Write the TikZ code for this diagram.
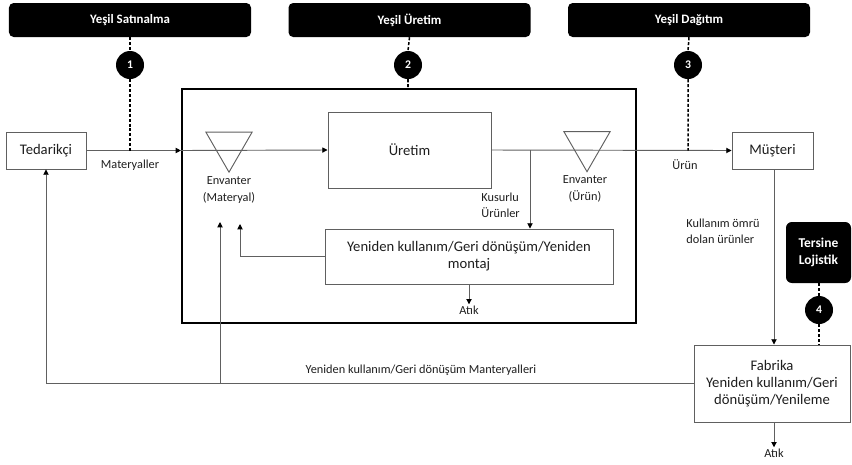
\documentclass[tikz,border=0pt]{standalone}
\usepackage{fontspec}
\setmainfont{Carlito}
\usetikzlibrary{arrows.meta,shapes.geometric}
\definecolor{lingray}{HTML}{606060}
\definecolor{txtdark}{HTML}{1E1E1E}
\tikzset{
  arr/.style={draw=lingray,line width=0.8pt,-{Triangle[width=4.5pt,length=4.5pt,color=black]}},
  plainline/.style={draw=lingray,line width=0.8pt},
  dashline/.style={draw=black,line width=1.3pt,dash pattern=on 2.6pt off 1.6pt},
  stagebox/.style={draw=lingray,line width=0.8pt,fill=white,text=txtdark,align=center,
    font=\fontsize{12.5}{14.5}\selectfont,inner sep=2pt},
  header/.style={fill=black,rounded corners=4pt,text=white,minimum width=7.26cm,
    minimum height=1.02cm,font=\bfseries\fontsize{11}{13}\selectfont},
  stepnum/.style={circle,fill=black,text=white,minimum size=0.84cm,inner sep=0pt,
    font=\bfseries\fontsize{10}{12}\selectfont},
  invtri/.style={regular polygon,regular polygon sides=3,shape border rotate=180,
    draw=lingray,line width=0.8pt,minimum size=1.6cm,inner sep=0pt},
  lbl/.style={text=txtdark,font=\fontsize{10.5}{14}\selectfont,inner sep=1pt}
}
\begin{document}
\begin{tikzpicture}[x=0.03cm,y=-0.03cm]
 \useasboundingbox (0,0) rectangle (852,464);
 % headers and numbered steps
 \node[header] (h1) at (130,20) {Yeşil Satınalma};
 \node[header] (h2) at (409.5,20) {Yeşil Üretim};
 \node[header] (h3) at (689,20) {Yeşil Dağıtım};
 \node[stepnum] (c1) at (130,65) {1};
 \node[stepnum] (c2) at (408,65) {2};
 \node[stepnum] (c3) at (688,65) {3};
 % plant frame
 \node[draw=black,line width=1.8pt,minimum width=13.62cm,minimum height=7.02cm] (plant) at (409,206) {};
 % boxes
 \node[stagebox,minimum width=2.4cm,minimum height=1.11cm] (tedarik) at (46,150.5) {Tedarikçi};
 \node[stagebox,minimum width=4.89cm,minimum height=2.28cm] (uretim) at (409.5,150) {Üretim};
 \node[stagebox,minimum width=2.43cm,minimum height=1.11cm] (musteri) at (772.5,150.5) {Müşteri};
 \node[stagebox,minimum width=8.64cm,minimum height=1.65cm] (reuse) at (469,256.5)
   {Yeniden kullanım/Geri dönüşüm/Yeniden\\montaj};
 \node[stagebox,minimum width=4.68cm,minimum height=2.31cm] (fabrika) at (772,383.5)
   {Fabrika\\Yeniden kullanım/Geri\\dönüşüm/Yenileme};
 \node[fill=black,rounded corners=5pt,text=white,align=center,minimum width=1.95cm,
   minimum height=1.83cm,font=\bfseries\fontsize{11.5}{15}\selectfont] (tersine) at (818.5,252.5) {Tersine\\Lojistik};
 \node[stepnum] (c4) at (819,310) {4};
 % labels
 \node[lbl] (matlbl) at (130,165) {Materyaller};
 \node[lbl,align=center] (envmlbl) at (229,190) {Envanter\\(Materyal)};
 \node[lbl,align=center] (envulbl) at (585,189) {Envanter\\(Ürün)};
 \node[lbl] (urunlbl) at (685,165) {Ürün};
 \node[lbl,align=left,anchor=west] (kuslbl) at (480,205) {Kusurlu\\Ürünler};
 \node[lbl,align=left,anchor=west] (omurlbl) at (685,231) {Kullanım ömrü\\dolan ürünler};
 \node[lbl] (atik1) at (469,310) {Atık};
 \node[lbl] (atik2) at (774,453) {Atık};
 \node[lbl] (geriLbl) at (421,370) {Yeniden kullanım/Geri dönüşüm Manteryalleri};
 \coordinate (kusurlu) at (530,150);
 \coordinate (envmin) at (240,224);
 \coordinate (envmret) at (220,222);
 % main flow
 \draw[arr] (tedarik.east) -- (tedarik.east -| plant.west);
 \draw[arr] (tedarik.east -| plant.west) -- (uretim.west);
 \draw[arr] (uretim.east) -- (musteri.west);
 \draw[arr] (kusurlu) -- (kusurlu |- reuse.north);
 \draw[arr] (reuse.west) -| (envmin);
 \draw[arr] (reuse.south -| atik1) -- (atik1.north);
 \draw[arr] (musteri.south -| atik2) -- (atik2 |- fabrika.north);
 \draw[arr] (fabrika.south -| atik2) -- (atik2.north);
 \draw[arr] (fabrika.west) -| (tedarik.south);
 \draw[arr] (envmret |- fabrika.west) -- (envmret);
 % inventories
 \node[invtri] (envm) at (229,145.5) {};
 \node[invtri] (envu) at (587,145) {};
 % dashed links
 \draw[dashline] (h1.south) -- (c1.north) (c1.south) -- (c1.south |- tedarik.east);
 \draw[dashline] (h2.south) -- (c2.north) (c2.south) -- (c2.south |- plant.north);
 \draw[dashline] (h3.south) -- (c3.north) (c3.south) -- (c3.south |- musteri.west);
 \draw[dashline] (tersine.south -| c4) -- (c4.north) (c4.south) -- (c4.south |- fabrika.north);
\end{tikzpicture}
\end{document}
